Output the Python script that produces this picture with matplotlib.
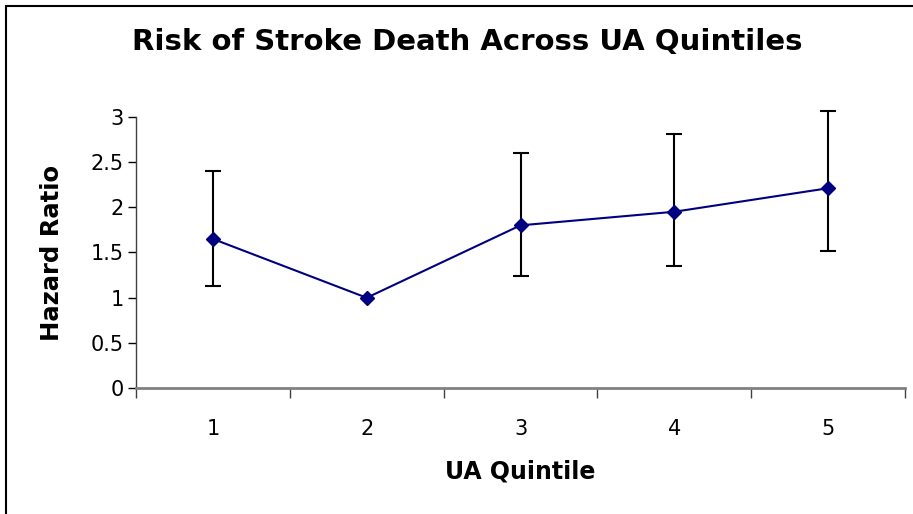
import numpy as np
import matplotlib
matplotlib.use('Agg')
import matplotlib.pyplot as plt
from matplotlib.patches import Rectangle

# Données
quintiles = [1, 2, 3, 4, 5]
hazard = [1.65, 1.00, 1.80, 1.95, 2.21]
ci_bas = [1.13, np.nan, 1.24, 1.35, 1.52]
ci_haut = [2.40, np.nan, 2.60, 2.81, 3.06]
yticks = [0, 0.5, 1, 1.5, 2, 2.5, 3]
ytick_labels = ['0', '0.5', '1', '1.5', '2', '2.5', '3']

plt.rcParams['font.family'] = ['DejaVu Sans']

fig = plt.figure(figsize=(9.13, 5.14), dpi=100)
ax = fig.add_axes([136 / 913, 1 - 388.3 / 514, (905 - 136) / 913, (388.3 - 116.7) / 514])

# Cadre noir autour du graphique
fig.patches.append(Rectangle((6 / 913, -0.1), 1.2, 1 - 6 / 514 + 0.1,
                             transform=fig.transFigure, fill=False,
                             edgecolor='black', linewidth=1.5))

x = np.array(quintiles, dtype=float)
h = np.array(hazard)
lo = np.array(ci_bas)
hi = np.array(ci_haut)
ok = ~np.isnan(lo)

ax.errorbar(x[ok], h[ok], yerr=[h[ok] - lo[ok], hi[ok] - h[ok]], fmt='none',
            ecolor='black', elinewidth=1.5, capsize=5.5, capthick=1.5,
            clip_on=False, zorder=2)
ax.plot(x, h, color='#000080', linewidth=1.5, marker='D', markersize=7.5,
        markerfacecolor='#000080', markeredgecolor='#000080', zorder=3,
        clip_on=False)

ax.set_xlim(0.5, 5.5)
ax.set_ylim(0, 3)

ax.set_xticks(np.arange(0.5, 6.0, 1.0))
ax.set_xticklabels([])
ax.set_xticks(x, minor=True)
ax.set_xticklabels([str(q) for q in quintiles], minor=True, fontsize=15)
ax.tick_params(axis='x', which='major', direction='out', length=7, width=1,
               color='#404040')
ax.tick_params(axis='x', which='minor', length=0, pad=22)

ax.set_yticks(yticks)
ax.set_yticklabels(ytick_labels, fontsize=15)
ax.tick_params(axis='y', direction='out', length=6, width=1, pad=3)

for s in ('top', 'right'):
    ax.spines[s].set_visible(False)
ax.spines['bottom'].set_color('#808080')
ax.spines['bottom'].set_linewidth(2)
ax.spines['left'].set_color('#404040')
ax.spines['left'].set_linewidth(1)

fig.text(467 / 913, 1 - 42 / 514, 'Risk of Stroke Death Across UA Quintiles',
         ha='center', va='center', fontsize=21, fontweight='bold')
fig.text(520 / 913, 1 - 472 / 514, 'UA Quintile', ha='center', va='center',
         fontsize=17, fontweight='bold')
fig.text(52 / 913, 1 - 253 / 514, 'Hazard Ratio', ha='center', va='center',
         rotation=90, fontsize=17.5, fontweight='bold')

fig.savefig('out.png', dpi=100)
